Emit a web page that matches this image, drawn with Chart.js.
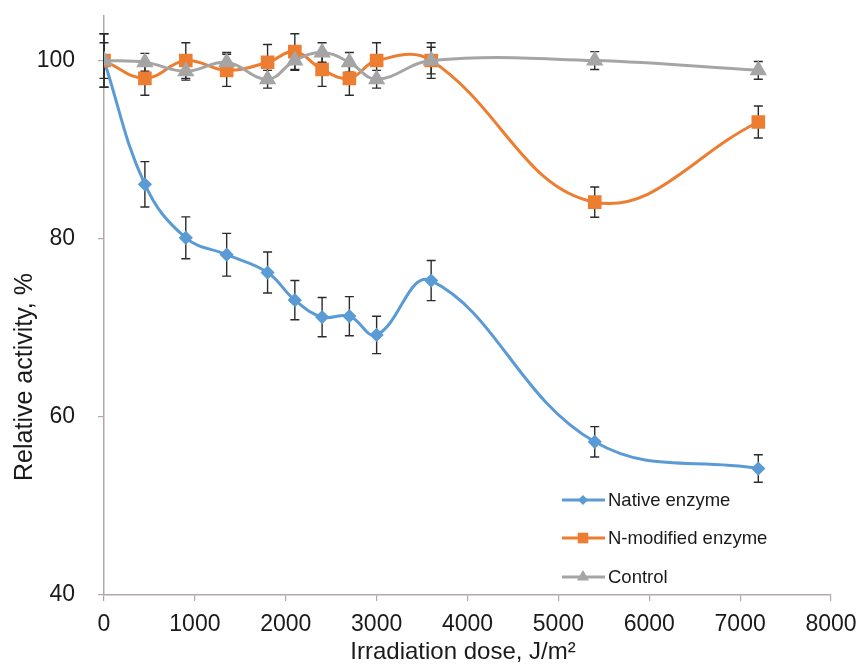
<!DOCTYPE html>
<html>
<head>
<meta charset="utf-8">
<script src="https://cdn.jsdelivr.net/npm/chart.js@4/dist/chart.umd.min.js"></script>
<style>
  html, body { margin: 0; padding: 0; background: #fff; }
  #wrap { width: 860px; height: 666px; }
</style>
</head>
<body>
<div id="wrap"><canvas id="grafico" width="860" height="666"></canvas></div>
<script>
// datos
const doses = [0, 450, 900, 1350, 1800, 2100, 2400, 2700, 3000, 3600, 5400, 7200];
const nativeEnzyme = [100, 86.1, 80.1, 78.2, 76.2, 73.1, 71.2, 71.3, 69.2, 75.3, 57.2, 54.2];
const nativeErr = [3, 2.55, 2.35, 2.4, 2.3, 2.2, 2.2, 2.2, 2.1, 2.25, 1.7, 1.55];
const modifiedEnzyme = [100, 98, 100, 98.9, 99.8, 101, 99, 98, 100, 100, 84.1, 93.1];
const modifiedErr = [3, 1.9, 2, 1.8, 2, 2, 1.9, 1.9, 2, 2, 1.7, 1.8];
const control = [100, 99.8, 98.8, 99.8, 97.9, 100, 100.9, 99.8, 97.9, 100, 100, 98.9];
const controlErr = [2, 1, 1, 1.1, 1, 1.1, 1.1, 1.1, 1, 1.5, 1, 1];
const xTicks = [0, 1000, 2000, 3000, 4000, 5000, 6000, 7000, 8000];
const yTicks = [40, 60, 80, 100];

const axisColor = '#b3a7a7';
const fontFamily = 'Arial, "Liberation Sans", Helvetica, sans-serif';

function toPoints(values) {
    return values.map((v, i) => ({ x: doses[i], y: v }));
}

// barras de error
const errorBars = {
    id: 'errorBars',
    beforeDatasetsDraw(chart) {
        const ctx = chart.ctx;
        const yScale = chart.scales.y;
        ctx.save();
        ctx.strokeStyle = '#2b2b2b';
        ctx.lineWidth = 1.4;
        chart.data.datasets.forEach((ds, di) => {
            const meta = chart.getDatasetMeta(di);
            ds.errors.forEach((e, i) => {
                const pt = meta.data[i];
                const top = yScale.getPixelForValue(ds.data[i].y + e);
                const bottom = yScale.getPixelForValue(ds.data[i].y - e);
                ctx.beginPath();
                ctx.moveTo(pt.x, top);
                ctx.lineTo(pt.x, bottom);
                ctx.moveTo(pt.x - 4.5, top);
                ctx.lineTo(pt.x + 4.5, top);
                ctx.moveTo(pt.x - 4.5, bottom);
                ctx.lineTo(pt.x + 4.5, bottom);
                ctx.stroke();
            });
        });
        ctx.restore();
    }
};

// leyenda y titulos de ejes
const extras = {
    id: 'extras',
    afterDraw(chart) {
        const ctx = chart.ctx;
        ctx.save();
        ctx.fillStyle = '#1a1a1a';
        ctx.textBaseline = 'middle';

        ctx.font = '24px ' + fontFamily;
        ctx.textAlign = 'center';
        ctx.fillText('Irradiation dose, J/m\u00B2', 463, 652);

        ctx.save();
        ctx.translate(25, 377);
        ctx.rotate(-Math.PI / 2);
        ctx.font = '25px ' + fontFamily;
        ctx.fillText('Relative activity, %', 0, 0);
        ctx.restore();

        ctx.font = '18.5px ' + fontFamily;
        ctx.textAlign = 'left';
        const rows = [500, 538, 577];
        chart.data.datasets.forEach((ds, i) => {
            const y = rows[i];
            ctx.strokeStyle = ds.borderColor;
            ctx.lineWidth = 3;
            ctx.beginPath();
            ctx.moveTo(562, y);
            ctx.lineTo(605, y);
            ctx.stroke();
            ctx.fillStyle = ds.pointBackgroundColor;
            Chart.helpers.drawPoint(ctx, {
                pointStyle: ds.pointStyle,
                radius: ds.pointRadius,
                borderWidth: 0,
                rotation: 0
            }, 583, y);
            ctx.fillStyle = '#1a1a1a';
            ctx.fillText(ds.label, 608, y + 1);
        });
        ctx.restore();
    }
};

const ctx = document.getElementById('grafico').getContext('2d');
const grafico = new Chart(ctx, {
    type: 'line',
    data: {
        datasets: [{
            label: 'Native enzyme',
            data: toPoints(nativeEnzyme),
            errors: nativeErr,
            borderColor: '#5b9bd5',
            pointBackgroundColor: '#5b9bd5',
            pointBorderColor: '#5b9bd5',
            pointStyle: 'rectRot',
            pointRadius: 5,
            borderWidth: 3,
            tension: 0.4,
            order: 3
        }, {
            label: 'N-modified enzyme',
            data: toPoints(modifiedEnzyme),
            errors: modifiedErr,
            borderColor: '#ed7d31',
            pointBackgroundColor: '#ed7d31',
            pointBorderColor: '#ed7d31',
            pointStyle: 'rect',
            pointRadius: 7.5,
            borderWidth: 3,
            tension: 0.4,
            order: 2
        }, {
            label: 'Control',
            data: toPoints(control),
            errors: controlErr,
            borderColor: '#a5a5a5',
            pointBackgroundColor: '#a5a5a5',
            pointBorderColor: '#a5a5a5',
            pointStyle: 'triangle',
            pointRadius: 7,
            borderWidth: 3,
            tension: 0.4,
            order: 1
        }]
    },
    options: {
        responsive: false,
        animation: false,
        layout: { padding: { top: 16, right: 29, left: 0, bottom: 0 } },
        plugins: {
            legend: { display: false },
            tooltip: { enabled: false }
        },
        scales: {
            x: {
                type: 'linear',
                min: 0,
                max: 8000,
                afterBuildTicks: axis => { axis.ticks = xTicks.map(v => ({ value: v })); },
                afterFit: axis => {
                    axis.height = 71;
                    axis.paddingLeft = 0;
                    axis.paddingRight = 0;
                },
                border: { color: axisColor, width: 1.5 },
                grid: { drawOnChartArea: false, color: axisColor, tickLength: 6, lineWidth: 1.2 },
                ticks: {
                    color: '#1a1a1a',
                    padding: 10,
                    maxRotation: 0,
                    callback: v => String(v),
                    font: { size: 23, family: fontFamily }
                }
            },
            y: {
                min: 40,
                max: 105,
                afterBuildTicks: axis => { axis.ticks = yTicks.map(v => ({ value: v })); },
                afterFit: axis => {
                    axis.width = 104;
                    axis.paddingTop = 0;
                    axis.paddingBottom = 0;
                },
                border: { color: axisColor, width: 1.5 },
                grid: { drawOnChartArea: false, color: axisColor, tickLength: 6, lineWidth: 1.2 },
                ticks: { color: '#1a1a1a', padding: 23, font: { size: 23, family: fontFamily } }
            }
        }
    },
    plugins: [errorBars, extras]
});
</script>
</body>
</html>
